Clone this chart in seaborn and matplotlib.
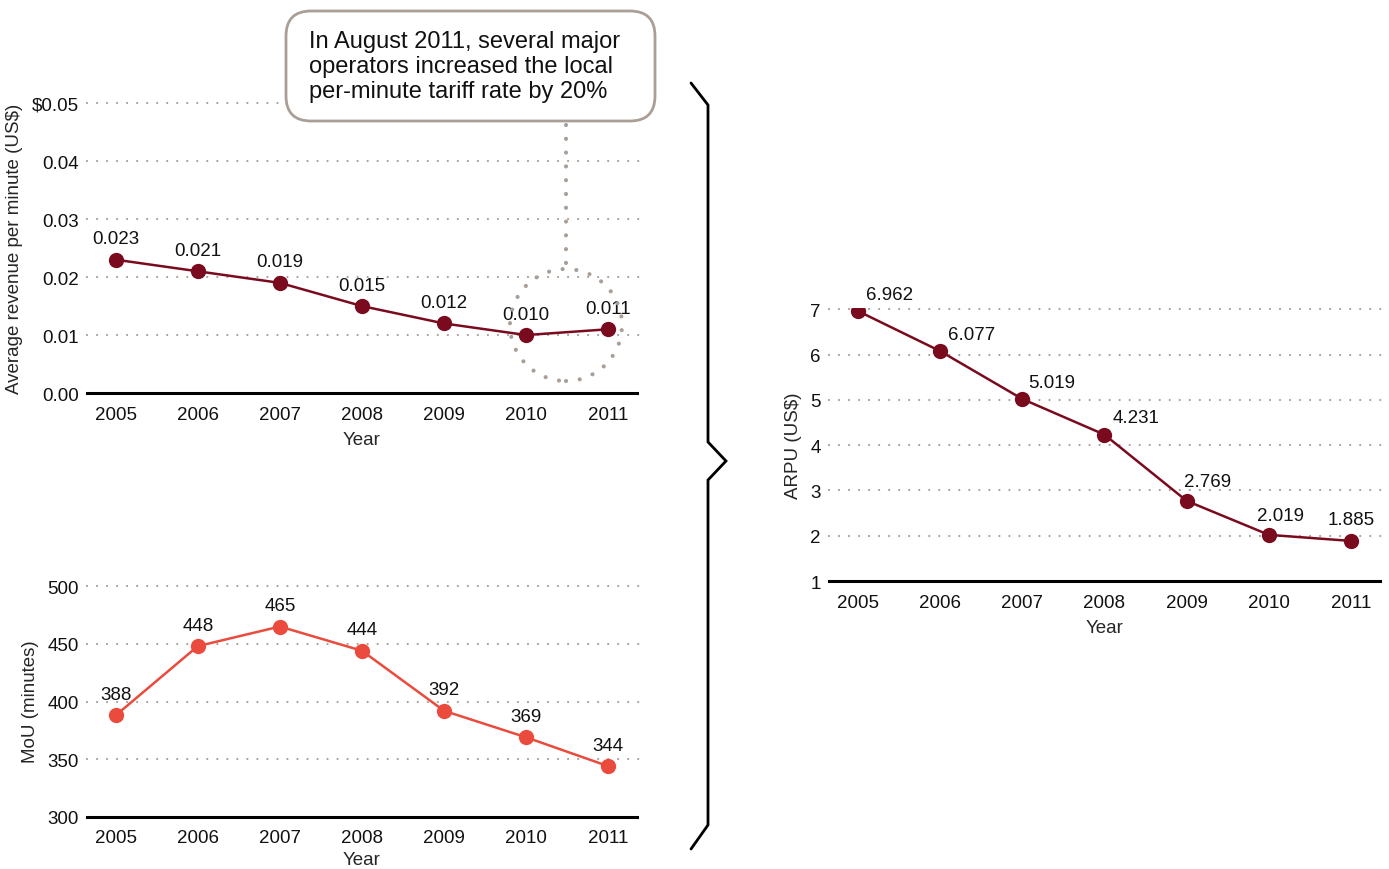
import matplotlib
matplotlib.use("Agg")
import matplotlib.pyplot as plt
import seaborn as sns
import pandas as pd
import numpy as np
from matplotlib.patches import FancyBboxPatch, Ellipse
from matplotlib.lines import Line2D

years = [2005, 2006, 2007, 2008, 2009, 2010, 2011]
rev_per_min = [0.023, 0.021, 0.019, 0.015, 0.012, 0.010, 0.011]
rev_labels = ["0.023", "0.021", "0.019", "0.015", "0.012", "0.010", "0.011"]
mou = [388, 448, 465, 444, 392, 369, 344]
arpu = [6.962, 6.077, 5.019, 4.231, 2.769, 2.019, 1.885]
arpu_labels = ["6.962", "6.077", "5.019", "4.231", "2.769", "2.019", "1.885"]

rev_ticks = [0.0, 0.01, 0.02, 0.03, 0.04, 0.05]
rev_ticklabels = ["0.00", "0.01", "0.02", "0.03", "0.04", "$0.05"]
mou_ticks = [300, 350, 400, 450, 500]
arpu_ticks = [1, 2, 3, 4, 5, 6, 7]

note = "In August 2011, several major\noperators increased the local\nper-minute tariff rate by 20%"

DARK_RED = "#7a0a1e"
CORAL = "#ea4b3c"
GRID = "#a99f97"
FS = 13.5

sns.set_theme(style="white")
plt.rcParams["font.family"] = ["Liberation Sans", "DejaVu Sans"]

fig = plt.figure(figsize=(13.89, 8.70), dpi=100)

ax_rev = fig.add_axes([0.0626, 0.5471, 0.396, 0.3345])
ax_mou = fig.add_axes([0.0626, 0.0598, 0.396, 0.2680])
ax_arpu = fig.add_axes([0.5968, 0.3310, 0.3967, 0.3140])

df = pd.DataFrame({"Year": years, "rev": rev_per_min, "mou": mou, "arpu": arpu})


def style_axis(ax, ticks, ticklabels, ylim, ylabel, xpad=6):
    ax.set_xlim(2004.65, 2011.35)
    ax.set_ylim(*ylim)
    ax.set_xticks(years)
    ax.set_xticklabels([str(y) for y in years], fontsize=FS)
    ax.set_yticks(ticks)
    ax.set_yticklabels(ticklabels, fontsize=FS)
    for s in ["top", "right", "left"]:
        ax.spines[s].set_visible(False)
    ax.spines["bottom"].set_color("black")
    ax.spines["bottom"].set_linewidth(2.2)
    ax.tick_params(axis="x", length=0, pad=9, colors="#111111")
    ax.tick_params(axis="y", length=0, pad=6, colors="#111111")
    ax.set_xlabel("Year", fontsize=FS, labelpad=xpad)
    ax.set_ylabel(ylabel, fontsize=FS, labelpad=6)
    for t in ticks[1:]:
        ax.axhline(t, color=GRID, lw=1.6, ls=(0, (0.01, 4.5)),
                   dash_capstyle="round", zorder=0, xmax=1.005, clip_on=False)


def draw_series(ax, col, color):
    sns.lineplot(data=df, x="Year", y=col, ax=ax, color=color, lw=1.8,
                 marker="o", markersize=11, markeredgewidth=0, zorder=3)


# Average revenue per minute
draw_series(ax_rev, "rev", DARK_RED)
style_axis(ax_rev, rev_ticks, rev_ticklabels, (0, 0.0502),
           "Average revenue per minute (US$)")
for x, y, lab in zip(years, rev_per_min, rev_labels):
    ax_rev.annotate(lab, (x, y), xytext=(0, 9), textcoords="offset points",
                    ha="center", va="bottom", fontsize=FS, color="#111111")

# Minutes of use
draw_series(ax_mou, "mou", CORAL)
style_axis(ax_mou, mou_ticks, [str(t) for t in mou_ticks], (300, 502),
           "MoU (minutes)", xpad=3)
for x, y, lab in zip(years, mou, mou):
    ax_mou.annotate(str(lab), (x, y), xytext=(0, 9), textcoords="offset points",
                    ha="center", va="bottom", fontsize=FS, color="#111111")

# ARPU
draw_series(ax_arpu, "arpu", DARK_RED)
style_axis(ax_arpu, arpu_ticks, [str(t) for t in arpu_ticks], (1, 7.03),
           "ARPU (US$)")
arpu_offsets = [(23, 6), (23, 6), (21, 6), (23, 6), (15, 8), (8, 8), (0, 9)]
for x, y, lab, off in zip(years, arpu, arpu_labels, arpu_offsets):
    ax_arpu.annotate(lab, (x, y), xytext=off, textcoords="offset points",
                     ha="center", va="bottom", fontsize=FS, color="#111111")

# Callout box with note
inch = fig.dpi_scale_trans
box = FancyBboxPatch((2.86 + 0.25, 7.48 + 0.25), 3.69 - 0.5, 1.10 - 0.5,
                     boxstyle="round,pad=0.25", transform=inch,
                     facecolor="white", edgecolor=GRID, lw=2, zorder=5)
fig.patches.append(box)
fig.text(3.09, 8.03, note, transform=inch, ha="left", va="center",
         fontsize=17, color="#111111", linespacing=1.2, zorder=6)

# Dotted leader and highlight ring around the latest years
fig.lines.append(Line2D([5.66, 5.66], [7.44, 6.05], transform=inch,
                        color=GRID, lw=3, ls=(0, (0.01, 3.3)),
                        dash_capstyle="round"))
ring = Ellipse((5.66, 5.44), 1.12, 1.12, transform=inch, fill=False,
               edgecolor=GRID, lw=3, ls=(0, (0.01, 3.3)), zorder=1)
ring.set_capstyle("round")
fig.patches.append(ring)

# Brace joining the left panels to the right panel
bx = [6.91, 7.08, 7.08, 7.26, 7.08, 7.08, 6.91]
by = [870 - 84, 870 - 106, 870 - 443, 870 - 462, 870 - 481, 870 - 826, 870 - 850]
by = [v / 100 for v in by]
fig.lines.append(Line2D(bx, by, transform=inch, color="black", lw=2,
                        solid_joinstyle="miter"))

fig.savefig("out.png", dpi=100)
